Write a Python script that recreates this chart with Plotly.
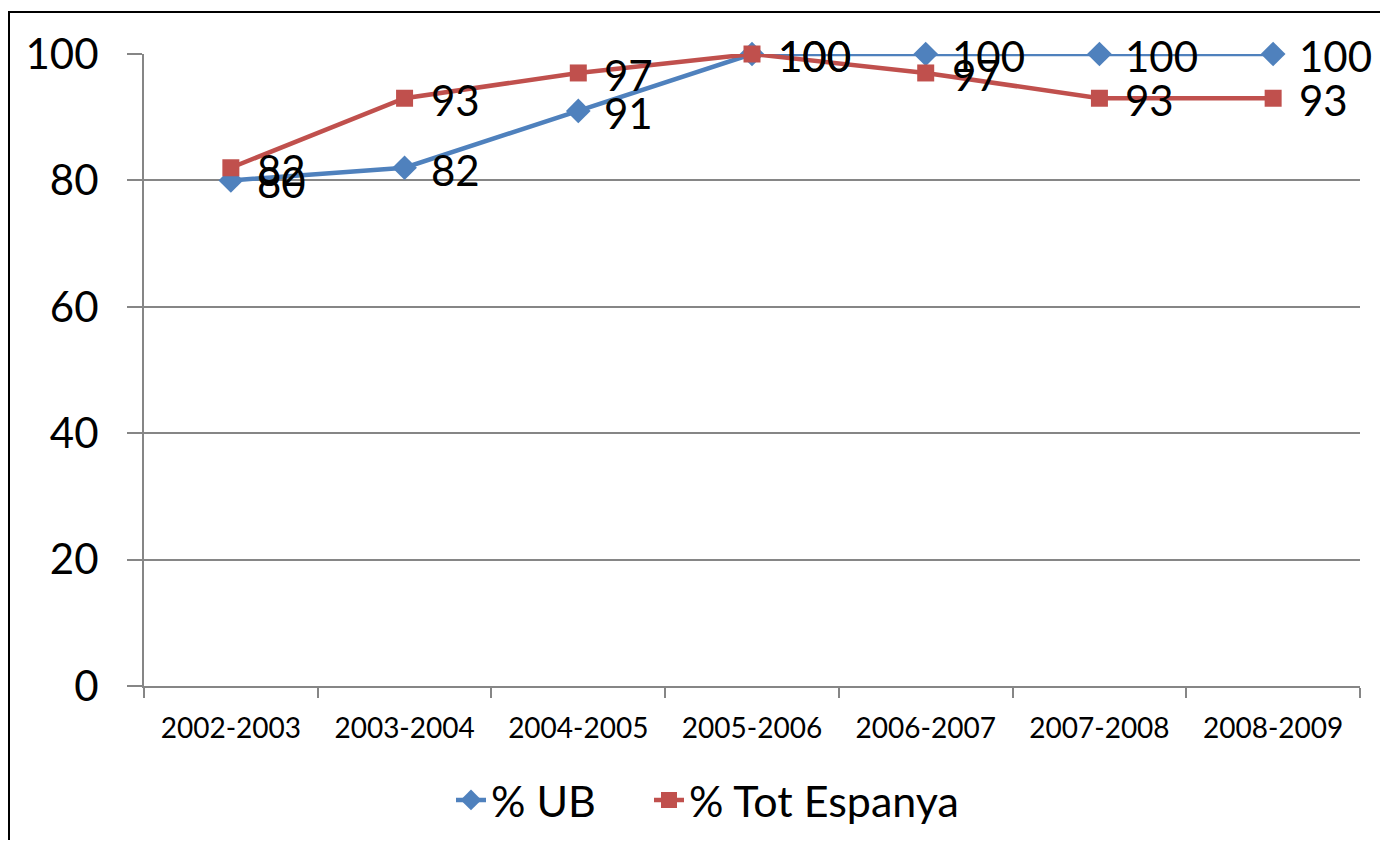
import plotly.graph_objects as go

categories = ["2002-2003", "2003-2004", "2004-2005", "2005-2006", "2006-2007", "2007-2008", "2008-2009"]
ub_values = [80, 82, 91, 100, 100, 100, 100]
tot_values = [82, 93, 97, 100, 97, 93, 93]
y_ticks = [0, 20, 40, 60, 80, 100]

FONT = "Lato"
# page has an 8px body margin; figure sized to fit inside it
W, H = 1372, 832
L, R, T, B = 136, 20, 46, 154
pw, ph = W - L - R, H - T - B

fig = go.Figure()
fig.add_trace(go.Scatter(
    x=categories, y=ub_values, name="% UB", legend="legend",
    mode="lines+markers", cliponaxis=False,
    line=dict(color="#4F81BD", width=4.5),
    marker=dict(symbol="diamond", size=19, color="#4F81BD"),
))
fig.add_trace(go.Scatter(
    x=categories, y=tot_values, name="% Tot Espanya", legend="legend2",
    mode="lines+markers", cliponaxis=False,
    line=dict(color="#C0504D", width=4.5),
    marker=dict(symbol="square", size=17, color="#C0504D"),
))

for vals in (ub_values, tot_values):
    for c, v in zip(categories, vals):
        fig.add_annotation(x=c, y=v, text=str(v), showarrow=False,
                           xanchor="left", yanchor="middle", xshift=24, yshift=-2,
                           font=dict(size=42, color="black", family=FONT))

# outer chart border (partially outside the page)
fig.add_shape(type="rect", xref="paper", yref="paper",
              x0=(1 - L) / pw, x1=(W + 20 - L) / pw,
              y0=-(H + 20 - T - ph) / ph, y1=1 + (T - 4) / ph,
              line=dict(color="black", width=2), layer="below")

leg_y = (H - 792) / H
leg_common = dict(orientation="h", xanchor="left", y=leg_y, yanchor="middle",
                  yref="container", xref="container",
                  font=dict(size=43, family=FONT), bgcolor="rgba(0,0,0,0)")

fig.update_layout(
    width=W, height=H,
    margin=dict(l=L, r=R, t=T, b=B, autoexpand=False),
    paper_bgcolor="white", plot_bgcolor="white",
    font=dict(family=FONT, color="black"),
    showlegend=True,
    legend=dict(x=443 / W, **leg_common),
    legend2=dict(x=641 / W, **leg_common),
    xaxis=dict(type="category", tickson="boundaries", ticks="outside", ticklen=10,
               tickcolor="#868686", tickwidth=2, showgrid=False,
               showline=True, linecolor="#868686", linewidth=2,
               ticklabelstandoff=16, automargin=False,
               tickfont=dict(size=28, family=FONT), range=[-0.5, 6.5]),
    yaxis=dict(range=[0, 100], tickvals=y_ticks, ticks="outside", ticklen=15,
               tickcolor="#868686", tickwidth=2,
               showgrid=True, gridcolor="#868686", gridwidth=2,
               showline=True, linecolor="#868686", linewidth=2,
               ticklabelstandoff=20, automargin=False,
               zeroline=False, tickfont=dict(size=42, family=FONT)),
)

fig.write_html("out.html")
